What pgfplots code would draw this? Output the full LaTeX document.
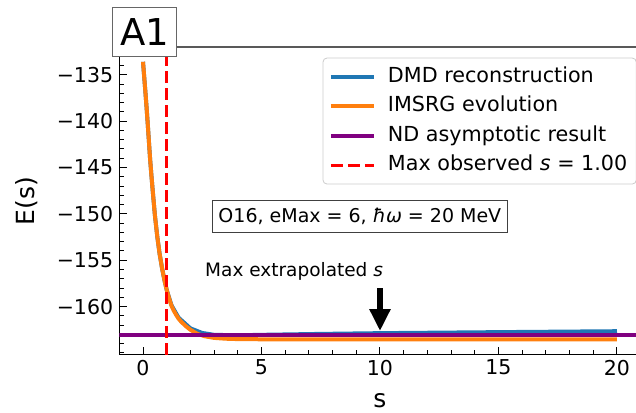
\documentclass[border=0pt]{standalone}
\usepackage{fontspec}
\setmainfont{DejaVu Sans}
\usepackage{pgfplots}
\pgfplotsset{compat=1.18}
\usetikzlibrary{arrows.meta}
\definecolor{mplblue}{HTML}{1F77B4}
\definecolor{mplorange}{HTML}{FF7F0E}
\definecolor{mplpurple}{HTML}{800080}
\begin{document}
\begin{tikzpicture}
\begin{axis}[
  x=23.7pt, y=9.27pt,
  xmin=-1, xmax=21, ymin=-165.2, ymax=-132,
  axis x line*=bottom, axis y line*=left,
  axis line style={-, line width=1.2pt, black},
  clip mode=individual,
  tick align=inside,
  xtick={0,5,10,15,20},
  minor xtick={-1,0,...,21},
  ytick={-160,-155,-150,-145,-140,-135},
  yticklabels={−160,−155,−150,−145,−140,−135},
  minor ytick={-165,-164,...,-132},
  major tick length=8pt, minor tick length=4.5pt,
  tick style={black, line width=1pt},
  tick label style={font=\fontsize{20.5}{24}\selectfont},
  /pgf/number format/assume math mode=true,
  xticklabel style={inner sep=0pt, yshift=-5pt},
  yticklabel style={inner sep=0pt, xshift=-6pt},
  xlabel={s}, ylabel={E(s)},
  label style={font=\fontsize{25}{29}\selectfont},
  xlabel style={at={(axis description cs:0.5,-0.172)}, anchor=base},
  ylabel style={at={(axis description cs:-0.1784,0.5)}, anchor=center},
  legend cell align=left,
  legend image code/.code={\draw[#1] (0pt,0pt) -- (43pt,0pt);},
  legend style={
    at={(axis cs:7.595,-133.19)}, anchor=north west, outer sep=0pt,
    draw=black!20, line width=0.8pt, rounded corners=4pt, fill=white,
    font=\fontsize{20.7}{24}\selectfont,
    inner xsep=6pt, inner ysep=9pt,
    row sep=10pt, column sep=9pt,
    nodes={inner xsep=3pt, inner ysep=0pt, text height=15pt, text depth=4.5pt},
  },
]
\addplot[mplblue, line width=4pt] coordinates {
(0,-133.6) (0.05,-135.2) (0.1,-136.8) (0.15,-138.5) (0.2,-140.3) (0.25,-142.2)
(0.3,-144.1) (0.35,-145.7) (0.4,-147.2) (0.5,-150.1) (0.6,-152.4) (0.7,-154.3)
(0.8,-155.8) (0.9,-157.1) (1.0,-158.2) (1.2,-159.85) (1.5,-161.2) (2.0,-162.35)
(2.5,-162.85) (3,-163.05) (4,-163.1) (5,-163.05) (7.5,-162.95) (10,-162.87)
(15,-162.76) (20,-162.66)
};
\addlegendentry{DMD reconstruction}
\addplot[mplorange, line width=4pt] coordinates {
(0,-133.6) (0.05,-135.2) (0.1,-136.8) (0.15,-138.5) (0.2,-140.3) (0.25,-142.2)
(0.3,-144.1) (0.35,-145.7) (0.4,-147.2) (0.5,-150.1) (0.6,-152.4) (0.7,-154.3)
(0.8,-155.8) (0.9,-157.1) (1.0,-158.2) (1.1,-159.1) (1.2,-159.9) (1.3,-160.45)
(1.4,-160.9) (1.5,-161.3) (1.6,-161.6) (1.8,-162.1) (2.0,-162.5) (2.3,-162.95)
(2.6,-163.2) (3.0,-163.38) (3.5,-163.47) (4.0,-163.51) (5,-163.53) (6,-163.54)
(8,-163.54) (10,-163.54) (15,-163.54) (20,-163.54)
};
\addlegendentry{IMSRG evolution}
\addplot[mplpurple, line width=4pt] coordinates {(-1,-163.1) (21,-163.1)};
\addlegendentry{ND asymptotic result}
\addplot[red, line width=3.5pt, dash pattern=on 12pt off 5pt] coordinates {(1,-165.2) (1,-132)};
\addlegendentry{Max observed \textit{s} = 1.00}

\draw[black!65, line width=1.2pt] (axis cs:-1,-132) -- (axis cs:21,-132);
\node[draw=black!60, line width=1pt, fill=white, anchor=north west,
      minimum width=64pt, minimum height=49pt, inner sep=0pt,
      font=\fontsize{37}{41}\selectfont] at (axis cs:-1.308,-127.69) {A1};
\node[draw=black!75, line width=1pt, fill=white, anchor=north west,
      inner xsep=6pt, inner ysep=0pt, minimum height=32pt,
      font=\fontsize{19}{22}\selectfont] at (axis cs:2.911,-148.5)
      {O16, eMax = 6, \textit{ħω} = 20 MeV};
\node[anchor=base west, inner sep=0pt, font=\fontsize{18.5}{22}\selectfont]
      at (axis cs:2.616,-156.81) {Max extrapolated \textit{s}};
\draw[-{Triangle[width=20pt,length=22pt]}, line width=6pt, black]
      (axis cs:10,-158.0) -- (axis cs:10,-162.64);
\coordinate (bbll) at (axis cs:-6.034,-171.48);
\coordinate (bbur) at (axis cs:20.802,-126.93);
\end{axis}
\pgfresetboundingbox
\useasboundingbox (bbll) rectangle (bbur);
\end{tikzpicture}
\end{document}
